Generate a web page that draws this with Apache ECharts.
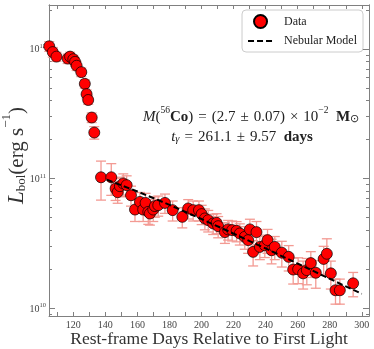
<!DOCTYPE html>
<html>
<head>
<meta charset="utf-8">
<script src="https://cdn.jsdelivr.net/npm/echarts@6/dist/echarts.min.js"></script>
<style>
  html, body { margin: 0; padding: 0; background: #fff; }
  #chart { width: 374px; height: 349px; }
</style>
</head>
<body>
<div id="chart"></div>
<script>
// rest-frame days since first light
const days = [105.0, 107.2, 109.5, 116.5, 118.0, 120.0, 121.1, 122.1, 125.0, 127.2, 128.3, 129.3, 131.5, 133.1,
  137.3, 143.7, 146.4, 147.7, 149.1, 151.2, 153.3, 156.0, 158.5, 161.6, 163.6, 165.1, 166.8, 167.8, 169.9, 170.9,
  173.0, 177.2, 182.0, 188.0, 191.7, 194.8, 198.4, 200.1, 202.1, 204.2, 207.3, 209.4, 210.4, 214.6, 216.6, 219.1,
  221.9, 223.9, 227.0, 229.1, 230.2, 232.2, 234.3, 236.4, 239.5, 241.2, 243.7, 245.7, 250.1, 254.4, 257.2, 260.3,
  263.4, 265.7, 268.2, 271.3, 276.2, 278.2, 280.7, 283.6, 286.3, 294.6];
// bolometric luminosity, in 1e10 erg/s
const lum = [104.7, 94.4, 87.1, 84.1, 87.1, 83.2, 79.4, 74.1, 66.1, 53.7, 44.7, 40.3, 29.5, 22.6,
  10.2, 10.2, 8.36, 7.83, 8.71, 9.14, 8.87, 7.41, 5.75, 6.59, 5.75, 6.47, 5.52, 5.36, 5.75, 6.11,
  6.21, 6.47, 5.69, 5.05, 5.86, 5.69, 5.69, 5.30, 4.91, 4.76, 4.49, 4.54, 4.28, 3.85, 4.04, 3.99,
  3.94, 3.76, 3.54, 3.34, 4.04, 2.71, 3.85, 2.96, 3.05, 3.34, 2.79, 2.96, 2.67, 2.48, 1.98, 1.99,
  1.85, 1.96, 2.22, 1.87, 2.39, 2.62, 1.85, 1.37, 1.37, 1.55];
// 1-sigma error, in 1e10 erg/s
const lumErr = [9, 8, 7, 7, 7, 6, 6, 6, 5, 4, 3.5, 3, 2.5, 2.5,
  3.4, 2.8, 1.6, 1.4, 1.5, 1.7, 1.6, 1.3, 1.1, 1.2, 1.1, 1.2, 1.1, 1.0, 1.1, 1.1,
  1.1, 1.1, 1.0, 0.9, 1.0, 1.0, 1.0, 0.9, 0.9, 0.9, 0.8, 0.8, 0.8, 0.7, 0.7, 0.7,
  0.7, 0.7, 0.7, 0.7, 0.8, 0.6, 0.8, 0.6, 0.6, 0.7, 0.6, 0.6, 0.6, 0.55, 0.45, 0.45,
  0.45, 0.45, 0.5, 0.45, 0.6, 0.8, 0.45, 0.3, 0.3, 0.33];
// nebular model curve
const modelDays = [141, 160, 180, 200, 220, 240, 260, 280, 300];
const modelLum = [9.77, 7.93, 6.25, 4.86, 3.75, 2.88, 2.20, 1.68, 1.285];

const xTickValues = [110, 120, 130, 140, 150, 160, 170, 180, 190, 200, 210, 220, 230, 240, 250, 260, 270, 280, 290, 300];
const xLabelValues = [120, 140, 160, 180, 200, 220, 240, 260, 280, 300];
const yMajorValues = [1e10, 1e11, 1e12];
const yMinorValues = [9e9, 2e10, 3e10, 4e10, 5e10, 6e10, 7e10, 8e10, 9e10,
  2e11, 3e11, 4e11, 5e11, 6e11, 7e11, 8e11, 9e11, 2e12];

const F = 'Liberation Serif';
const AX = '#808080';
const X_MIN = 104.85, X_MAX = 304.5;
const Y_MIN = 8.67e9, Y_MAX = 2.18e12;

const chart = echarts.init(document.getElementById('chart'));

function xAx(pos, labels) {
  return {
    type: 'value', position: pos, min: X_MIN, max: X_MAX,
    axisLine: { show: true, lineStyle: { color: AX, width: 1 } },
    axisTick: { show: true, inside: true, length: 4, customValues: xTickValues, lineStyle: { color: AX } },
    axisLabel: labels ? {
      show: true, customValues: xLabelValues, fontFamily: F, fontSize: 10, color: '#444', margin: 4
    } : { show: false },
    splitLine: { show: false },
    name: labels ? 'Rest-frame Days Relative to First Light' : '',
    nameLocation: 'middle', nameGap: 14, nameMoveOverlap: false,
    nameTextStyle: { fontFamily: F, fontSize: 17.5, color: '#333' }
  };
}

function yAx(pos, values, len, labels) {
  const ax = {
    type: 'log', position: pos, min: Y_MIN, max: Y_MAX,
    axisLine: { show: true, lineStyle: { color: AX, width: 1 } },
    axisTick: { show: true, inside: true, length: len, customValues: values, lineStyle: { color: AX } },
    axisLabel: { show: false },
    splitLine: { show: false }
  };
  if (labels) {
    ax.axisLabel = {
      show: true, customValues: yMajorValues, margin: 3,
      formatter: v => '{b|10}{e|' + Math.round(Math.log10(v)) + '}',
      rich: {
        b: { fontFamily: F, fontSize: 10, color: '#444', lineHeight: 12, verticalAlign: 'bottom' },
        e: { fontFamily: F, fontSize: 6.5, color: '#444', lineHeight: 8, verticalAlign: 'top' }
      }
    };
    ax.name = '{i|L}{sub|bol}{r|(erg s}{sup|\u22121}{r|)}';
    ax.nameLocation = 'middle';
    ax.nameRotate = 90;
    ax.nameGap = 21;
    ax.nameMoveOverlap = false;
    ax.nameTextStyle = {
      padding: [0, 0, 0, 10],
      rich: {
        i: { fontFamily: F, fontStyle: 'italic', fontSize: 23, color: '#333', lineHeight: 28, verticalAlign: 'bottom' },
        sub: { fontFamily: F, fontSize: 13, color: '#333', lineHeight: 13, verticalAlign: 'bottom' },
        r: { fontFamily: F, fontSize: 21, color: '#333', lineHeight: 28, verticalAlign: 'bottom' },
        sup: { fontFamily: F, fontSize: 13, color: '#333', lineHeight: 14, verticalAlign: 'top' }
      }
    };
  }
  return ax;
}

const ann = {
  i: { fontFamily: F, fontStyle: 'italic', fontSize: 15, fill: '#222', lineHeight: 19, verticalAlign: 'bottom' },
  r: { fontFamily: F, fontSize: 15, fill: '#222', lineHeight: 19, verticalAlign: 'bottom' },
  op: { fontFamily: F, fontSize: 15, fill: '#222', lineHeight: 19, verticalAlign: 'bottom', padding: [0, 5, 0, 5] },
  b: { fontFamily: F, fontWeight: 'bold', fontSize: 15, fill: '#222', lineHeight: 19, verticalAlign: 'bottom' },
  sup: { fontFamily: F, fontSize: 9.5, fill: '#222', lineHeight: 10, verticalAlign: 'top' },
  sub: { fontFamily: F, fontSize: 10.5, fill: '#222', lineHeight: 11, verticalAlign: 'bottom' },
  isub: { fontFamily: F, fontStyle: 'italic', fontSize: 10.5, fill: '#222', lineHeight: 11, verticalAlign: 'bottom' }
};

const option = {
  animation: false,
  grid: { left: 49, right: 5, top: 5, bottom: 33, outerBoundsMode: 'none', containLabel: false },
  legend: {
    data: ['Data', { name: 'Nebular Model', itemStyle: { opacity: 0 } }],
    orient: 'vertical', right: 11, top: 10,
    itemWidth: 25, itemHeight: 13, itemGap: 6,
    padding: [4, 6, 5, 5],
    backgroundColor: 'rgba(255,255,255,0.85)',
    borderColor: '#ccc', borderWidth: 1, borderRadius: 4,
    textStyle: { fontFamily: F, fontSize: 12, color: '#222', padding: [0, 0, 0, 6] }
  },
  xAxis: [xAx('bottom', true), xAx('top', false)],
  yAxis: [
    yAx('left', yMajorValues, 6, true),
    yAx('left', yMinorValues, 3, false),
    yAx('right', yMajorValues, 6, false),
    yAx('right', yMinorValues, 3, false)
  ],
  graphic: [
    {
      type: 'text', x: 251, y: 115,
      style: {
        text: '{i|M}{r|(}{sup|56}{b|Co}{r|)}{op|=}{r|(2.7}{op|\u00b1}{r|0.07)}{op|\u00d7}{r|10}{sup|\u22122}{r|  }{b|M}{sub|\u2299}',
        rich: ann, align: 'center', verticalAlign: 'middle'
      }
    },
    {
      type: 'text', x: 242, y: 135,
      style: {
        text: '{i|t}{isub|\u03b3}{op|=}{r|261.1}{op|\u00b1}{r|9.57  }{b|days}',
        rich: ann, align: 'center', verticalAlign: 'middle'
      }
    }
  ],
  series: [
    {
      type: 'custom', name: 'err', silent: true, z: 1,
      data: days.map((d, i) => [d, (lum[i] - lumErr[i]) * 1e10, (lum[i] + lumErr[i]) * 1e10]),
      encode: { x: 0, y: [1, 2] },
      renderItem: function (params, api) {
        const lo = api.coord([api.value(0), api.value(1)]);
        const hi = api.coord([api.value(0), api.value(2)]);
        const w = 5;
        const st = { stroke: '#f39a93', lineWidth: 1.3 };
        return {
          type: 'group',
          children: [
            { type: 'line', shape: { x1: lo[0], y1: lo[1], x2: hi[0], y2: hi[1] }, style: st },
            { type: 'line', shape: { x1: lo[0] - w, y1: lo[1], x2: lo[0] + w, y2: lo[1] }, style: st },
            { type: 'line', shape: { x1: hi[0] - w, y1: hi[1], x2: hi[0] + w, y2: hi[1] }, style: st }
          ]
        };
      }
    },
    {
      type: 'scatter', name: 'Data', z: 3,
      symbol: 'circle', symbolSize: 11,
      itemStyle: { color: '#ff0000', borderColor: '#000', borderWidth: 0.7, opacity: 1 },
      data: days.map((d, i) => [d, lum[i] * 1e10])
    },
    {
      type: 'line', name: 'Nebular Model', z: 5,
      symbol: 'none',
      lineStyle: { color: '#000', width: 2, type: [6, 3] },
      itemStyle: { color: '#000' },
      data: modelDays.map((d, i) => [d, modelLum[i] * 1e10])
    }
  ]
};

chart.setOption(option);
</script>
</body>
</html>
